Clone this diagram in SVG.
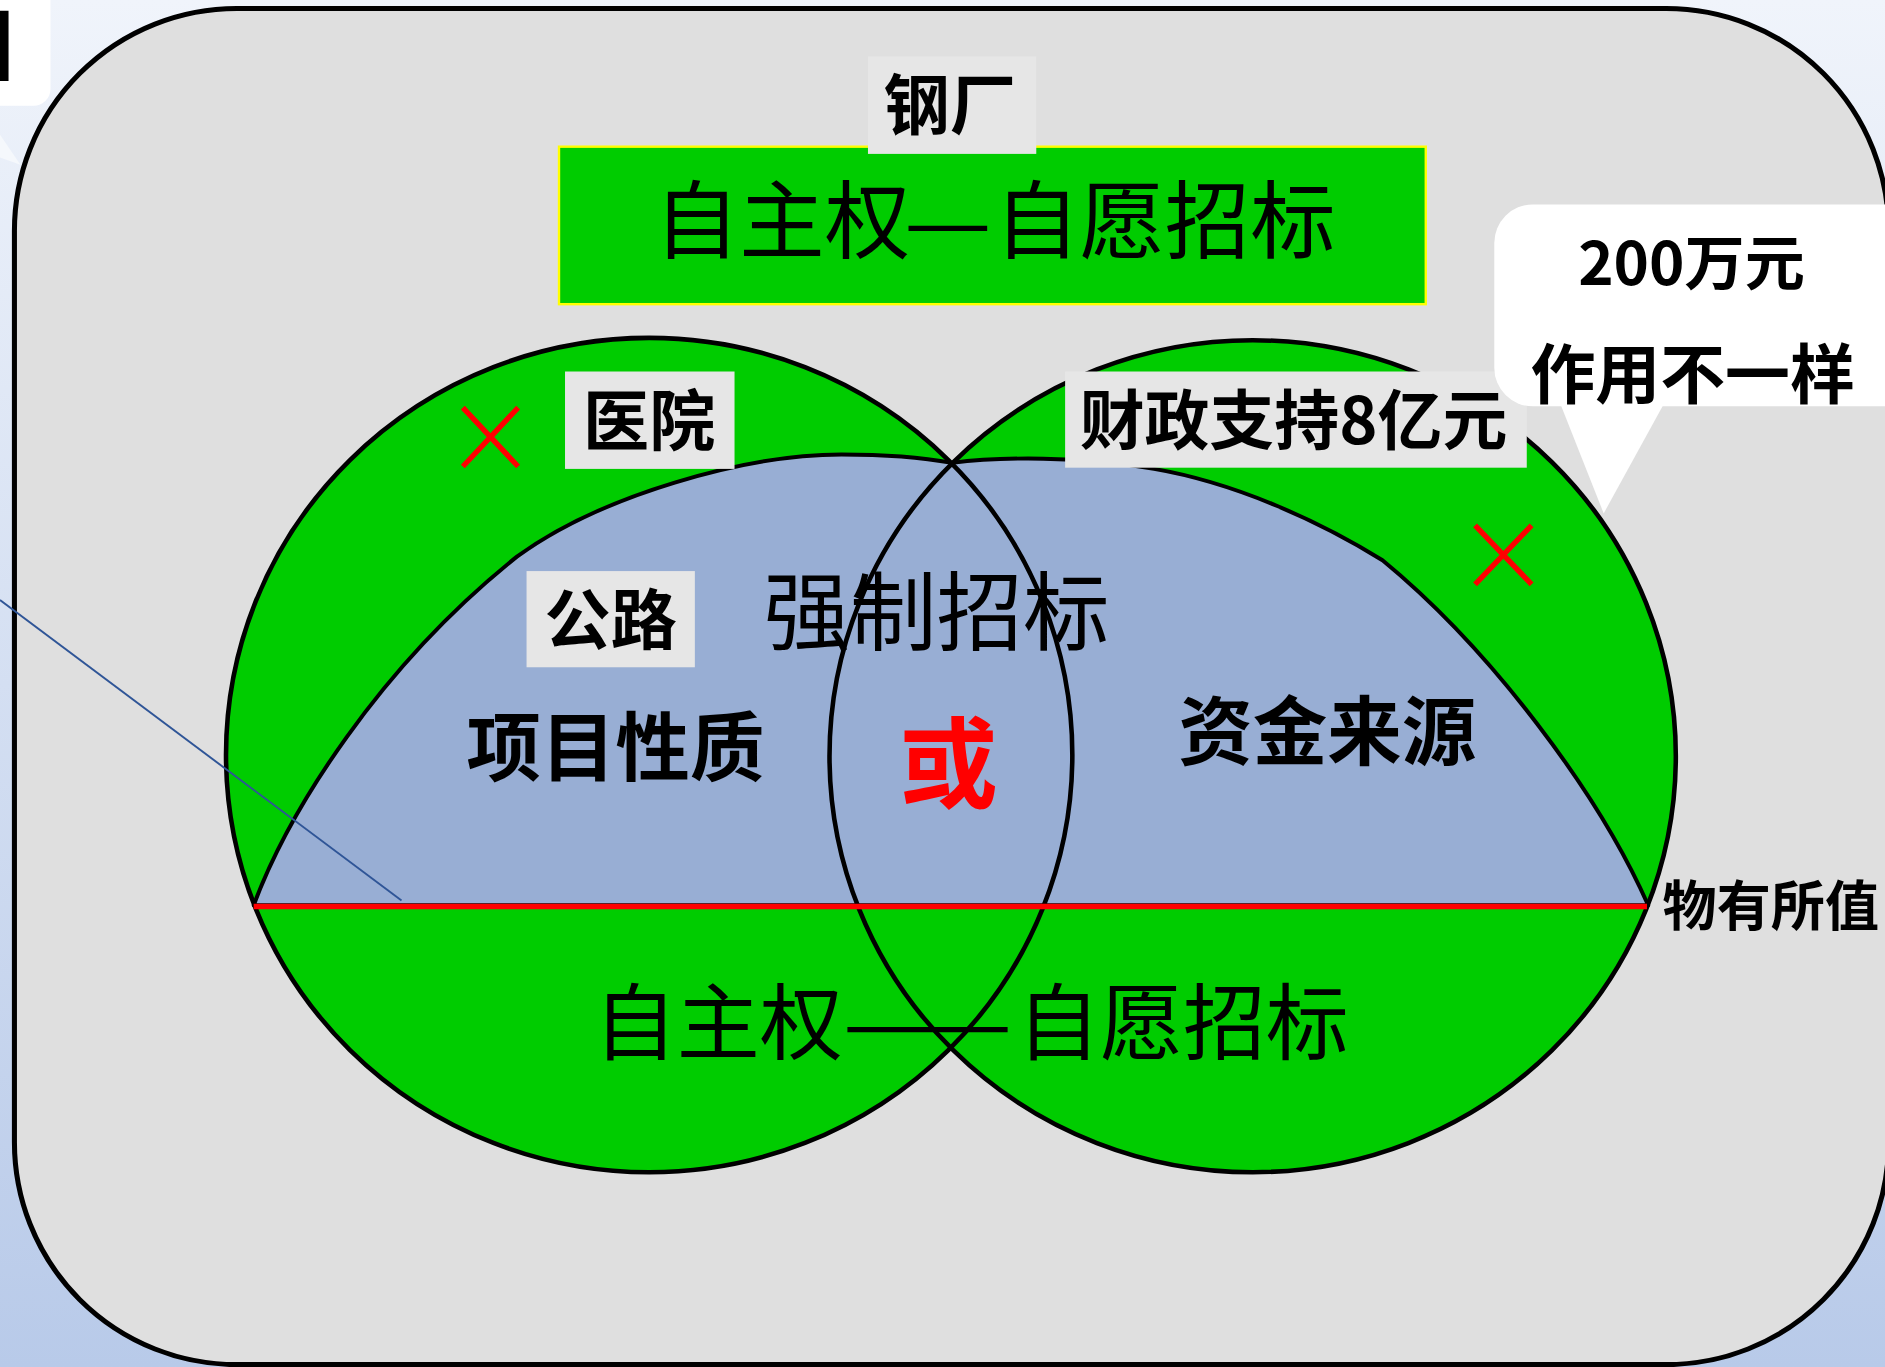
<svg xmlns="http://www.w3.org/2000/svg" width="1885" height="1367" viewBox="0 0 1885 1367">
  <defs>
    <linearGradient id="bg" x1="0" y1="0" x2="0" y2="1">
      <stop offset="0" stop-color="#f0f4fb"/>
      <stop offset="1" stop-color="#b8cae9"/>
    </linearGradient>
    <style>
      .cjk { font-family: "Noto Sans CJK SC", "Noto Sans", sans-serif; text-anchor: middle; }
      .st { text-anchor: start; }
      .b { font-weight: bold; }
      .r { font-weight: normal; }
      .lbl { fill: #e6e6e6; }
      .green { fill: #00cc00; }
      .outline { fill: none; stroke: #000; stroke-width: 3.8; }
      .xmark { stroke: #ff0000; stroke-width: 4.5; }
    </style>
  </defs>
  <rect x="0" y="0" width="1885" height="1367" fill="url(#bg)"/>
  <g transform="scale(1.20217 1.20229)">
    <g id="corner-callout">
      <polygon points="0,112 17,137 0,131" fill="#f5f8fc"/>
      <rect x="-40" y="-40" width="82" height="128" rx="14" fill="#ffffff"/>
      <text x="-10.9" y="67" font-family="Liberation Sans, Arial, sans-serif" font-weight="bold" font-size="85" fill="#000">I</text>
    </g>
    <g id="frame">
      <rect x="12" y="7" width="1559" height="1128" rx="185" ry="185" fill="#dfdfdf" stroke="#000" stroke-width="4.2"/>
    </g>
    <g id="top-box">
      <rect x="465" y="122" width="721" height="131" class="green" stroke="#ffff00" stroke-width="2"/>
      <text class="cjk st r" y="210" font-size="71" fill="#000"><tspan x="544">自主权</tspan><tspan x="752" textLength="73" lengthAdjust="spacingAndGlyphs">—</tspan><tspan x="827">自愿招标</tspan></text>
    </g>
    <g id="steel">
      <rect x="722" y="47" width="140" height="81" class="lbl"/>
      <text class="cjk b" x="790" y="107" font-size="55" fill="#000">钢厂</text>
    </g>
    <g id="venn">
      <ellipse cx="540" cy="628" rx="352" ry="347" class="green"/>
      <ellipse cx="1042" cy="629" rx="352" ry="346" class="green"/>
      <path id="blue-region" d="M211,753 C240,675 315,555 430,463 C500,412 620,378 700,378 C740,378 770,381 792,385 C830,380 900,379 960,390 C1030,402 1100,435 1150,466 C1240,540 1330,660 1371,753 Z" fill="#98aed4" stroke="#000" stroke-width="3.3" stroke-linejoin="round"/>
      <ellipse cx="540" cy="628" rx="352" ry="347" class="outline"/>
      <ellipse cx="1042" cy="629" rx="352" ry="346" class="outline"/>
      <line x1="211" y1="754" x2="1370" y2="754" stroke="#ff0000" stroke-width="4.5"/>
    </g>
    <g id="hospital">
      <rect x="470" y="309" width="141" height="81" class="lbl"/>
      <text class="cjk b" x="540" y="370" font-size="55" fill="#000">医院</text>
    </g>
    <g id="x-left">
      <line x1="385" y1="339" x2="431" y2="388" class="xmark"/>
      <line x1="431" y1="339" x2="385" y2="388" class="xmark"/>
    </g>
    <g id="finance">
      <rect x="886" y="309" width="384" height="80" class="lbl"/>
      <text class="cjk b" x="1076" y="369" font-size="54" fill="#000">财政支持8亿元</text>
    </g>
    <g id="value-callout">
      <polygon points="1298,336 1384,336 1334,427" fill="#ffffff"/>
      <rect x="1243" y="170" width="400" height="168" rx="32" fill="#ffffff"/>
      <text class="cjk b" x="1407" y="237" font-size="50" fill="#000">200万元</text>
      <text class="cjk b" x="1408" y="331" font-size="54" fill="#000">作用不一样</text>
    </g>
    <g id="x-right">
      <line x1="1227" y1="437" x2="1274" y2="486" class="xmark"/>
      <line x1="1274" y1="437" x2="1227" y2="486" class="xmark"/>
    </g>
    <g id="road">
      <rect x="438" y="475" width="140" height="80" class="lbl"/>
      <text class="cjk b" x="508" y="536" font-size="55" fill="#000">公路</text>
    </g>
    <g id="mandatory">
      <text class="cjk r" x="779" y="536" font-size="72" fill="#000">强制招标</text>
    </g>
    <g id="or">
      <text class="cjk b" x="789" y="665" font-size="82" fill="#ff0000">或</text>
    </g>
    <g id="nature">
      <text class="cjk b" x="512" y="645" font-size="62" fill="#000">项目性质</text>
    </g>
    <g id="funds">
      <text class="cjk b" x="1104" y="631" font-size="62" fill="#000">资金来源</text>
    </g>
    <g id="vfm">
      <text class="cjk b" x="1473" y="770" font-size="45" fill="#000">物有所值</text>
    </g>
    <g id="bottom-text">
      <text class="cjk st r" y="876" font-size="69" fill="#000"><tspan x="494">自主权</tspan><tspan x="701" textLength="141" lengthAdjust="spacingAndGlyphs">——</tspan><tspan x="846">自愿招标</tspan></text>
    </g>
    <g id="connectors">
      <line x1="0" y1="499" x2="334" y2="749" stroke="#2f5597" stroke-width="1.6"/>
    </g>
  </g>
</svg>
